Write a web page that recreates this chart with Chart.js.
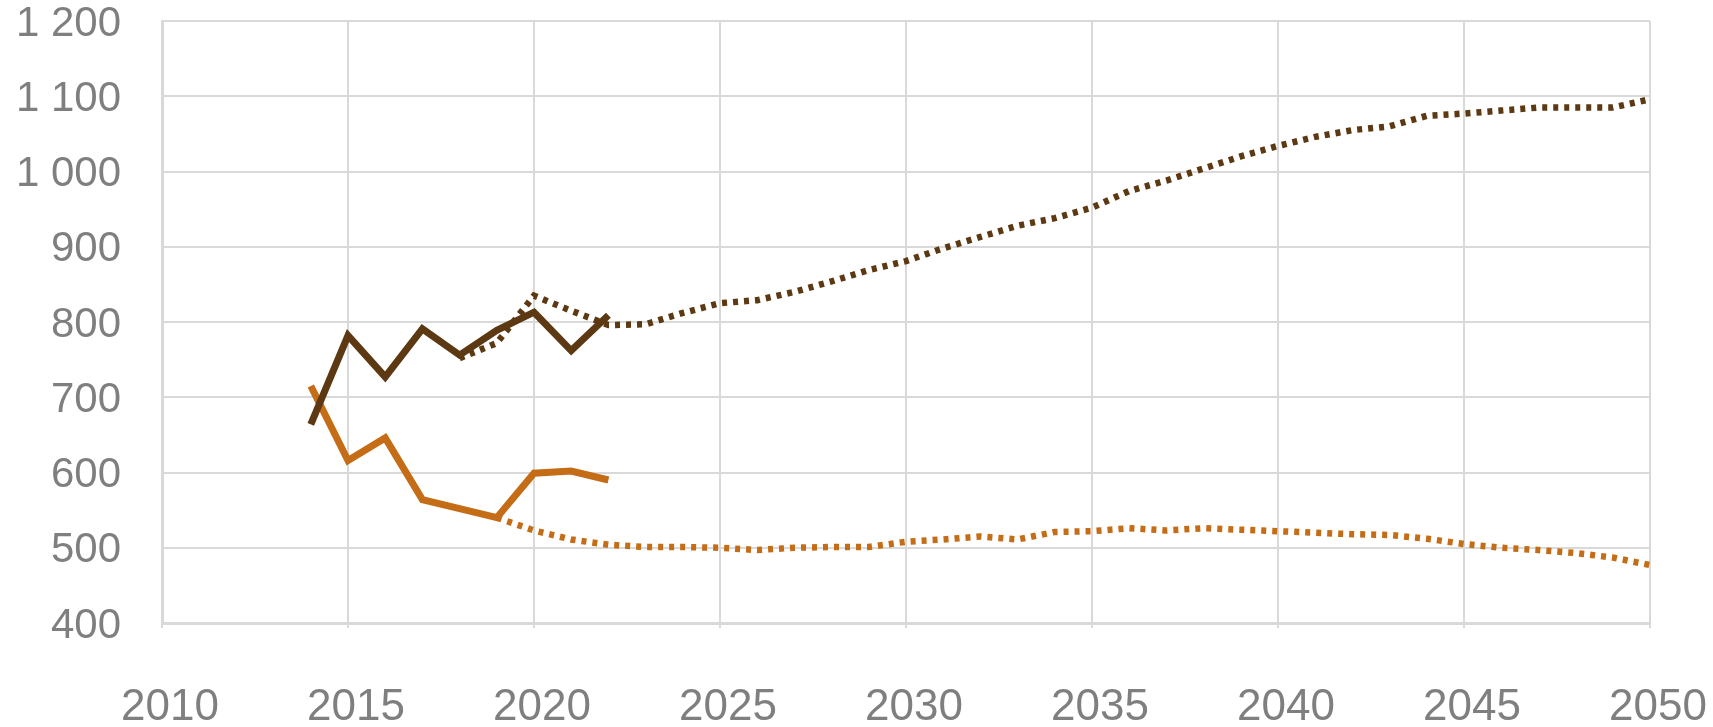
<!DOCTYPE html>
<html>
<head>
<meta charset="utf-8">
<script src="https://cdn.jsdelivr.net/npm/chart.js@4"></script>
<style>
  html, body { margin: 0; padding: 0; background: #ffffff; }
  #wrap { width: 1713px; height: 727px; }
</style>
</head>
<body>
<div id="wrap"><canvas id="c" width="1713" height="727"></canvas></div>
<script>
// ---- data ----
const solidYears = [2014, 2015, 2016, 2017, 2018, 2019, 2020, 2021, 2022];
const brownSolid = [664, 782, 727, 791, 756, 789, 813, 762, 809];
const orangeSolid = [715, 616, 646, 564, 552, 540, 599, 602, 590];

const brownDottedYears = [2018, 2019, 2020, 2021, 2022, 2023, 2024, 2025, 2026, 2027, 2028, 2029, 2030,
  2031, 2032, 2033, 2034, 2035, 2036, 2037, 2038, 2039, 2040, 2041, 2042, 2043, 2044, 2045, 2046,
  2047, 2048, 2049, 2050];
const brownDotted = [752, 772, 835, 815, 796, 797, 812, 825, 829, 840, 854, 869, 881,
  898, 913, 928, 938, 952, 974, 988, 1004, 1020, 1034, 1046, 1055, 1060, 1074, 1077, 1081,
  1085, 1085, 1085, 1096];

const orangeDottedYears = [2019, 2020, 2021, 2022, 2023, 2024, 2025, 2026, 2027, 2028, 2029, 2030,
  2031, 2032, 2033, 2034, 2035, 2036, 2037, 2038, 2039, 2040, 2041, 2042, 2043, 2044, 2045, 2046,
  2047, 2048, 2049, 2050];
const orangeDotted = [540, 523, 511, 504, 501, 501, 500, 497, 500, 501, 501, 508,
  511, 515, 511, 521, 522, 526, 523, 526, 524, 522, 520, 518, 517, 512, 505, 500,
  497, 493, 487, 477];

const xTicks = [2010, 2015, 2020, 2025, 2030, 2035, 2040, 2045, 2050];
const yTicks = [400, 500, 600, 700, 800, 900, 1000, 1100, 1200];

// ---- styles ----
const BROWN = '#5C3912';
const ORANGE = '#C56C16';
const GRID = '#D9D9D9';
const LABEL = '#7F7F7F';

const pts = (xs, ys) => xs.map((x, i) => ({ x: x, y: ys[i] }));

function fmtThousands(v) {
  const s = String(Math.round(v));
  return s.replace(/\B(?=(\d{3})+(?!\d))/g, ' ');
}

new Chart(document.getElementById('c'), {
  type: 'line',
  data: {
    datasets: [
      { label: 'brown dotted', data: pts(brownDottedYears, brownDotted), borderColor: BROWN,
        borderWidth: 6.5, borderDash: [5, 6], borderCapStyle: 'butt', pointRadius: 0, fill: false, tension: 0 },
      { label: 'orange dotted', data: pts(orangeDottedYears, orangeDotted), borderColor: ORANGE,
        borderWidth: 6.5, borderDash: [5, 6], borderCapStyle: 'butt', pointRadius: 0, fill: false, tension: 0 },
      { label: 'brown', data: pts(solidYears, brownSolid), borderColor: BROWN,
        borderWidth: 7, borderJoinStyle: 'miter', borderCapStyle: 'butt', pointRadius: 0, fill: false, tension: 0 },
      { label: 'orange', data: pts(solidYears, orangeSolid), borderColor: ORANGE,
        borderWidth: 7, borderJoinStyle: 'miter', borderCapStyle: 'butt', pointRadius: 0, fill: false, tension: 0 }
    ]
  },
  options: {
    responsive: false,
    animation: false,
    devicePixelRatio: 1,
    layout: { padding: { top: 21, right: 63, bottom: 0, left: 0 } },
    plugins: { legend: { display: false }, tooltip: { enabled: false } },
    scales: {
      x: {
        type: 'linear',
        min: 2010, max: 2050,
        afterBuildTicks: (s) => { s.ticks = xTicks.map(v => ({ value: v })); },
        afterFit: (s) => { s.height = 104; s.paddingLeft = 0; s.paddingRight = 0; },
        grid: { color: GRID, lineWidth: 2, drawTicks: true, tickLength: 5, tickColor: GRID },
        border: { color: GRID, width: 3 },
        ticks: {
          color: LABEL, padding: 53, labelOffset: 8, maxRotation: 0,
          font: { family: '"Liberation Sans", Arial, sans-serif', size: 44, lineHeight: 1.2 },
          callback: (v) => String(v)
        }
      },
      y: {
        min: 400, max: 1200,
        afterBuildTicks: (s) => { s.ticks = yTicks.map(v => ({ value: v })); },
        afterFit: (s) => { s.width = 162; s.paddingTop = 0; s.paddingBottom = 0; },
        grid: { color: GRID, lineWidth: 2, drawTicks: false },
        border: { color: GRID, width: 3 },
        ticks: {
          color: LABEL, padding: 41, labelOffset: 3,
          font: { family: '"Liberation Sans", Arial, sans-serif', size: 42, lineHeight: 1.0 },
          callback: (v) => fmtThousands(v)
        }
      }
    }
  }
});
</script>
</body>
</html>
